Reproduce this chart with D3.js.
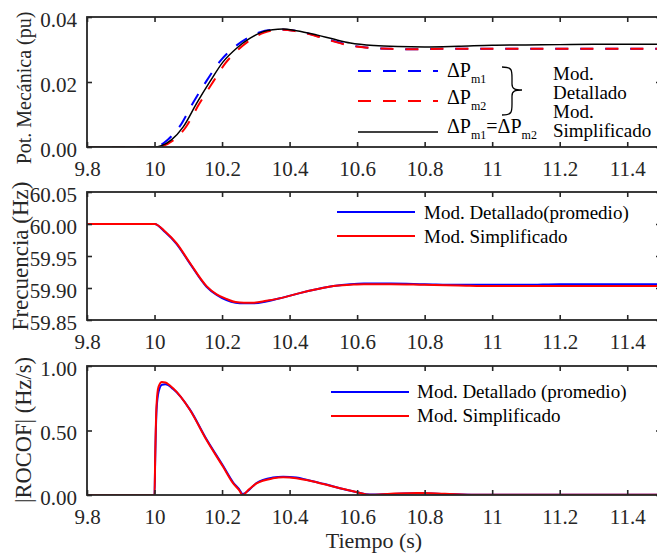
<!DOCTYPE html>
<html>
<head>
<meta charset="utf-8">
<script src="https://cdn.jsdelivr.net/npm/d3@7"></script>
<style>
  html, body { margin: 0; padding: 0; background: #fff; }
  svg, svg text { font-family: "Liberation Serif", "Times New Roman", "DejaVu Serif", serif; }
</style>
</head>
<body>
<svg id="chart" width="657" height="554"></svg>
<script>
// ---- shared time axis ----
const xTicks = [9.8, 10, 10.2, 10.4, 10.6, 10.8, 11, 11.2, 11.4];
const xTickLabels = ["9.8", "10", "10.2", "10.4", "10.6", "10.8", "11", "11.2", "11.4"];

// ---- panel 1: mechanical power (pu) ----
const powTicks = [0, 0.02, 0.04];
const powTickLabels = ["0.00", "0.02", "0.04"];

const tPm1 = [9.8, 10.0, 10.012, 10.04, 10.075, 10.115, 10.155, 10.195, 10.235, 10.275, 10.315, 10.345, 10.372, 10.42, 10.48, 10.53, 10.58, 10.64, 10.7, 10.76, 10.85, 11.0, 11.2, 11.5];
const pm1Det = [0, 0, 0.0003, 0.0023, 0.0064, 0.0138, 0.0205, 0.0265, 0.0306, 0.0335, 0.0354, 0.0360, 0.0362, 0.0357, 0.0342, 0.0326, 0.0313, 0.0305, 0.0302, 0.0301, 0.0302, 0.0302, 0.0302, 0.0302];

const tPm2 = [9.8, 10.0, 10.02, 10.055, 10.092, 10.132, 10.172, 10.21, 10.248, 10.286, 10.325, 10.352, 10.38, 10.42, 10.48, 10.53, 10.58, 10.64, 10.7, 10.76, 10.85, 11.0, 11.2, 11.5];
const pm2Det = [0, 0, 0.0002, 0.0020, 0.0060, 0.0132, 0.0198, 0.0258, 0.0300, 0.0331, 0.0352, 0.0359, 0.0361, 0.0356, 0.0341, 0.0325, 0.0312, 0.0305, 0.0302, 0.0301, 0.0302, 0.0302, 0.0302, 0.0302];

const tPmS = [9.8, 10.0, 10.02, 10.05, 10.085, 10.125, 10.164, 10.203, 10.243, 10.282, 10.322, 10.35, 10.38, 10.42, 10.48, 10.53, 10.58, 10.65, 10.72, 10.8, 10.9, 11.0, 11.1, 11.2, 11.3, 11.4, 11.5];
const pmSimp = [0, 0, 0.0004, 0.0022, 0.0062, 0.0135, 0.0201, 0.0262, 0.0304, 0.0334, 0.0355, 0.0361, 0.0363, 0.0358, 0.0345, 0.0332, 0.0320, 0.0312, 0.0309, 0.0308, 0.0310, 0.0313, 0.0314, 0.0315, 0.0316, 0.0316, 0.0316];

// ---- panel 2: frequency (Hz) ----
const freqTicks = [59.85, 59.90, 59.95, 60.00, 60.05];
const freqTickLabels = ["59.85", "59.90", "59.95", "60.00", "60.05"];

const tFreq = [9.8, 10.0, 10.032, 10.065, 10.105, 10.154, 10.184, 10.213, 10.24, 10.265, 10.29, 10.331, 10.38, 10.43, 10.48, 10.53, 10.58, 10.62, 10.7, 10.8, 10.9, 11.0, 11.1, 11.2, 11.35, 11.5];
const freqDet  = [60.000, 60.000, 59.987, 59.969, 59.938, 59.902, 59.889, 59.881, 59.877, 59.876, 59.876, 59.879, 59.885, 59.892, 59.898, 59.903, 59.906, 59.907, 59.907, 59.906, 59.905, 59.905, 59.905, 59.906, 59.906, 59.906];
const freqSimp = [60.000, 60.000, 59.988, 59.970, 59.939, 59.903, 59.890, 59.883, 59.878, 59.877, 59.877, 59.880, 59.885, 59.892, 59.898, 59.903, 59.905, 59.906, 59.906, 59.905, 59.904, 59.903, 59.903, 59.903, 59.903, 59.903];

// ---- panel 3: |ROCOF| (Hz/s) ----
const rocofTicks = [0, 0.5, 1.0];
const rocofTickLabels = ["0.00", "0.50", "1.00"];

const tRocof = [9.8, 10.0, 10.002, 10.006, 10.012, 10.022, 10.032, 10.055, 10.105, 10.154, 10.203, 10.233, 10.25, 10.261, 10.28, 10.302, 10.351, 10.381, 10.42, 10.45, 10.5, 10.549, 10.6, 10.637, 10.7, 10.78, 10.86, 10.95, 11.1, 11.3, 11.5];
const rocofDet  = [0, 0, 0.28, 0.66, 0.80, 0.855, 0.858, 0.822, 0.662, 0.432, 0.226, 0.097, 0.047, 0.008, 0.04, 0.093, 0.135, 0.142, 0.135, 0.119, 0.087, 0.053, 0.022, 0.003, 0.008, 0.013, 0.008, 0.002, 0.002, 0.001, 0.001];
const rocofSimp = [0, 0, 0.30, 0.70, 0.84, 0.876, 0.872, 0.827, 0.659, 0.426, 0.219, 0.090, 0.040, 0.0, 0.045, 0.090, 0.129, 0.137, 0.130, 0.116, 0.085, 0.052, 0.022, 0.002, 0.010, 0.016, 0.010, 0.002, 0.002, 0.001, 0.001];

const BLUE = "#0000ff", RED = "#ff0000", AX = "#262626";
const SERIF = "'Liberation Serif', 'Times New Roman', 'DejaVu Serif', serif";
const DASH = "13,12";

const svg = d3.select("#chart");
const x = d3.scaleLinear().domain([9.8, 11.5]).range([87, 661]);

function zip(ts, vs) { return ts.map((t, i) => [t, vs[i]]); }

let clipId = 0;
function panel(cfg) {
  const y = d3.scaleLinear().domain(cfg.yDomain).range([cfg.bottom, cfg.top]);
  const g = svg.append("g");
  const id = "clip" + (clipId++);
  g.append("clipPath").attr("id", id).append("rect")
    .attr("x", x.range()[0]).attr("y", cfg.top)
    .attr("width", x.range()[1] - x.range()[0]).attr("height", cfg.bottom - cfg.top);

  const line = d3.line().x(d => x(d[0])).y(d => y(d[1])).curve(d3.curveMonotoneX);
  const plot = g.append("g").attr("clip-path", `url(#${id})`);
  cfg.series.forEach(s => {
    plot.append("path").datum(zip(s.t, s.v))
      .attr("d", line).attr("fill", "none")
      .attr("stroke", s.color).attr("stroke-width", s.width)
      .attr("stroke-dasharray", s.dash || null)
      .attr("stroke-linejoin", "round");
  });

  // axes: bottom/left with labels, top/right mirrored ticks
  const xb = d3.axisBottom(x).tickValues(xTicks).tickSizeInner(-5).tickSizeOuter(0)
    .tickFormat((d, i) => xTickLabels[i]).tickPadding(13);
  const xt = d3.axisTop(x).tickValues(xTicks).tickSizeInner(-5).tickSizeOuter(0).tickFormat("");
  const yl = d3.axisLeft(y).tickValues(cfg.yTicks).tickSizeInner(-5).tickSizeOuter(0)
    .tickFormat((d, i) => cfg.yTickLabels[i]).tickPadding(10);
  const yr = d3.axisRight(y).tickValues(cfg.yTicks).tickSizeInner(-5).tickSizeOuter(0).tickFormat("");

  const ax = [
    g.append("g").attr("transform", `translate(0,${cfg.bottom})`).call(xb),
    g.append("g").attr("transform", `translate(0,${cfg.top})`).call(xt),
    g.append("g").attr("transform", `translate(${x.range()[0]},0)`).call(yl),
    g.append("g").attr("transform", `translate(${x.range()[1]},0)`).call(yr)
  ];
  ax.forEach(a => {
    a.attr("font-family", SERIF).attr("font-size", 21);
    a.select(".domain").remove();
    a.selectAll(".tick line").attr("stroke", AX).attr("stroke-width", 1.6);
    a.selectAll("text").attr("fill", AX).attr("font-family", SERIF).attr("font-size", 21);
  });
  ax[0].selectAll("text").attr("dy", null).attr("y", 29);
  ax[2].selectAll("text").attr("dy", "0.43em");

  g.append("rect")
    .attr("x", x.range()[0]).attr("y", cfg.top)
    .attr("width", x.range()[1] - x.range()[0]).attr("height", cfg.bottom - cfg.top)
    .attr("fill", "none").attr("stroke", AX).attr("stroke-width", 1.8);

  g.append("text")
    .attr("transform", `translate(${cfg.labelX},${cfg.labelY}) rotate(-90)`)
    .attr("text-anchor", "middle").attr("fill", AX)
    .attr("font-family", SERIF).attr("font-size", cfg.labelSize)
    .text(cfg.label);
  return { g, y };
}

// ---- panel 1 ----
panel({
  top: 17, bottom: 147, yDomain: [0, 0.04], yTicks: powTicks, yTickLabels: powTickLabels,
  label: "Pot. Mecánica (pu)", labelX: 31, labelY: 88, labelSize: 20,
  series: [
    { t: tPm1, v: pm1Det, color: BLUE, width: 2, dash: DASH },
    { t: tPm2, v: pm2Det, color: RED, width: 2, dash: DASH },
    { t: tPmS, v: pmSimp, color: "#000", width: 1.5 }
  ]
});

// legend for panel 1
const leg1 = svg.append("g").attr("font-family", SERIF).attr("font-size", 20).attr("fill", "#000");
const legRows = [
  { y: 71, color: BLUE, dash: DASH },
  { y: 101, color: RED, dash: DASH },
  { y: 132, color: "#000", dash: null }
];
legRows.forEach(r => {
  leg1.append("line").attr("x1", 358).attr("x2", 438).attr("y1", r.y).attr("y2", r.y)
    .attr("stroke", r.color).attr("stroke-width", r.dash ? 2 : 1.5)
    .attr("stroke-dasharray", r.dash);
});
function deltaP(sel, xPos, base, sub) {
  const t = sel.append("text").attr("x", xPos).attr("y", base);
  t.append("tspan").text("ΔP");
  t.append("tspan").attr("dy", 6).attr("font-size", 12).text(sub);
  return t;
}
deltaP(leg1, 447, 77, "m1");
deltaP(leg1, 447, 104, "m2");
{
  const t = leg1.append("text").attr("x", 447).attr("y", 133);
  t.append("tspan").text("ΔP");
  t.append("tspan").attr("dy", 6).attr("font-size", 12).text("m1");
  t.append("tspan").attr("dy", -6).text("=ΔP");
  t.append("tspan").attr("dy", 6).attr("font-size", 12).text("m2");
}
// curly brace grouping the two detailed-model rows
leg1.append("path")
  .attr("d", "M502,67 C512,67 512,70 512,78 L512,84 C512,89 515,90 522,90 C515,90 512,91 512,96 L512,104 C512,112 512,115 502,115")
  .attr("fill", "none").attr("stroke", "#000").attr("stroke-width", 1.3);
const leg1Text = [["Mod.", 80], ["Detallado", 99], ["Mod.", 118], ["Simplificado", 137]];
leg1Text.forEach(d => leg1.append("text").attr("x", 553).attr("y", d[1]).attr("font-size", 19).text(d[0]));

// ---- panel 2 ----
panel({
  top: 192, bottom: 320, yDomain: [59.85, 60.05], yTicks: freqTicks, yTickLabels: freqTickLabels,
  label: "Frecuencia (Hz)", labelX: 28, labelY: 256, labelSize: 23,
  series: [
    { t: tFreq, v: freqDet, color: BLUE, width: 2 },
    { t: tFreq, v: freqSimp, color: RED, width: 2 }
  ]
});
const leg2 = svg.append("g").attr("font-family", SERIF).attr("font-size", 19).attr("fill", "#000");
[["Mod. Detallado(promedio)", BLUE, 212, 219], ["Mod. Simplificado", RED, 236, 243]].forEach(d => {
  leg2.append("line").attr("x1", 337).attr("x2", 415).attr("y1", d[2]).attr("y2", d[2])
    .attr("stroke", d[1]).attr("stroke-width", 1.8);
  leg2.append("text").attr("x", 424).attr("y", d[3]).text(d[0]);
});

// ---- panel 3 ----
panel({
  top: 366, bottom: 495, yDomain: [0, 1], yTicks: rocofTicks, yTickLabels: rocofTickLabels,
  label: "|ROCOF| (Hz/s)", labelX: 31, labelY: 430, labelSize: 22.5,
  series: [
    { t: tRocof, v: rocofDet, color: BLUE, width: 2 },
    { t: tRocof, v: rocofSimp, color: RED, width: 2 }
  ]
});
const leg3 = svg.append("g").attr("font-family", SERIF).attr("font-size", 19).attr("fill", "#000");
[["Mod. Detallado (promedio)", BLUE, 392, 398], ["Mod. Simplificado", RED, 416, 422]].forEach(d => {
  leg3.append("line").attr("x1", 331).attr("x2", 409).attr("y1", d[2]).attr("y2", d[2])
    .attr("stroke", d[1]).attr("stroke-width", 1.8);
  leg3.append("text").attr("x", 417).attr("y", d[3]).text(d[0]);
});

// shared x label
svg.append("text").attr("x", 374).attr("y", 548).attr("text-anchor", "middle")
  .attr("fill", AX).attr("font-family", SERIF).attr("font-size", 22).text("Tiempo (s)");
</script>
</body>
</html>
